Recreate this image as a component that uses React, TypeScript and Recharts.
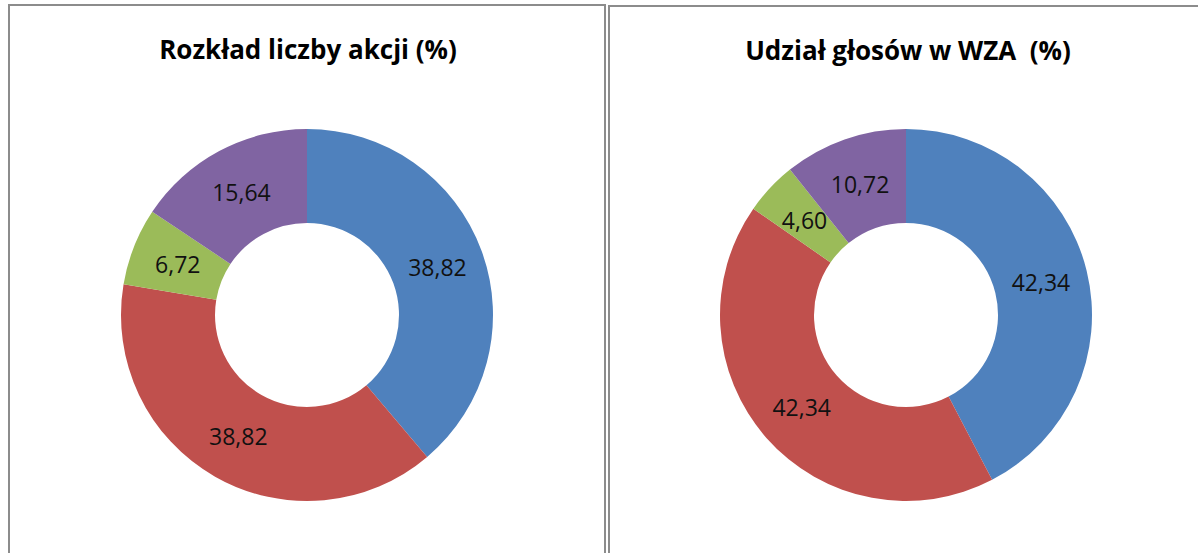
import { PieChart, Pie, Cell } from 'recharts';

const categories = ['A', 'B', 'C', 'D'];
const sharesPct = [38.82, 38.82, 6.72, 15.64];
const votesPct = [42.34, 42.34, 4.6, 10.72];
const colors = ['#4F81BD', '#C0504D', '#9BBB59', '#8064A2'];

const RAD = Math.PI / 180;
const fmt = (v: number) => v.toFixed(2).replace('.', ',');

const renderLabel = (props: any) => {
  const { cx, cy, midAngle, innerRadius, outerRadius, value } = props;
  const r = (innerRadius + outerRadius) / 2;
  const x = cx + r * Math.cos(-midAngle * RAD);
  const y = cy + r * Math.sin(-midAngle * RAD);
  return (
    <text x={x} y={y} textAnchor="middle" dominantBaseline="central" fill="#111" fontSize={23} fontFamily="'Open Sans', sans-serif">
      {fmt(value)}
    </text>
  );
};

function Donut({ title, values, cx, cy }: { title: string; values: number[]; cx: number; cy: number }) {
  const data = categories.map((name, i) => ({ name, value: values[i] }));
  return (
    <div style={{ position: 'relative', width: 596, height: 560 }}>
      <div
        style={{
          position: 'absolute',
          left: 0,
          top: 25,
          width: 596,
          textAlign: 'center',
          fontFamily: "'Open Sans', sans-serif",
          fontWeight: 700,
          fontSize: 26,
          color: '#000',
          whiteSpace: 'pre',
        }}
      >
        {title}
      </div>
      <PieChart width={596} height={560}>
        <Pie
          data={data}
          dataKey="value"
          cx={cx}
          cy={cy}
          innerRadius={92}
          outerRadius={186}
          startAngle={90}
          endAngle={-270}
          stroke="none"
          label={renderLabel}
          labelLine={false}
          isAnimationActive={false}
        >
          {data.map((d, i) => (
            <Cell key={d.name} fill={colors[i]} />
          ))}
        </Pie>
      </PieChart>
    </div>
  );
}

export default function App() {
  return (
    <div style={{ position: 'fixed', left: 0, top: 0, width: 1198, height: 553, background: '#fff', overflow: 'hidden' }}>
      <div style={{ position: 'absolute', left: 8, top: 4, border: '2px solid #8c8c8c', width: 594, height: 560, overflow: 'hidden' }}>
        <Donut title="Rozkład liczby akcji (%)" values={sharesPct} cx={292} cy={304} />
      </div>
      <div style={{ position: 'absolute', left: 608, top: 5, border: '2px solid #8c8c8c', width: 600, height: 560, overflow: 'hidden' }}>
        <Donut title="Udział głosów w WZA  (%)" values={votesPct} cx={291} cy={303} />
      </div>
    </div>
  );
}
